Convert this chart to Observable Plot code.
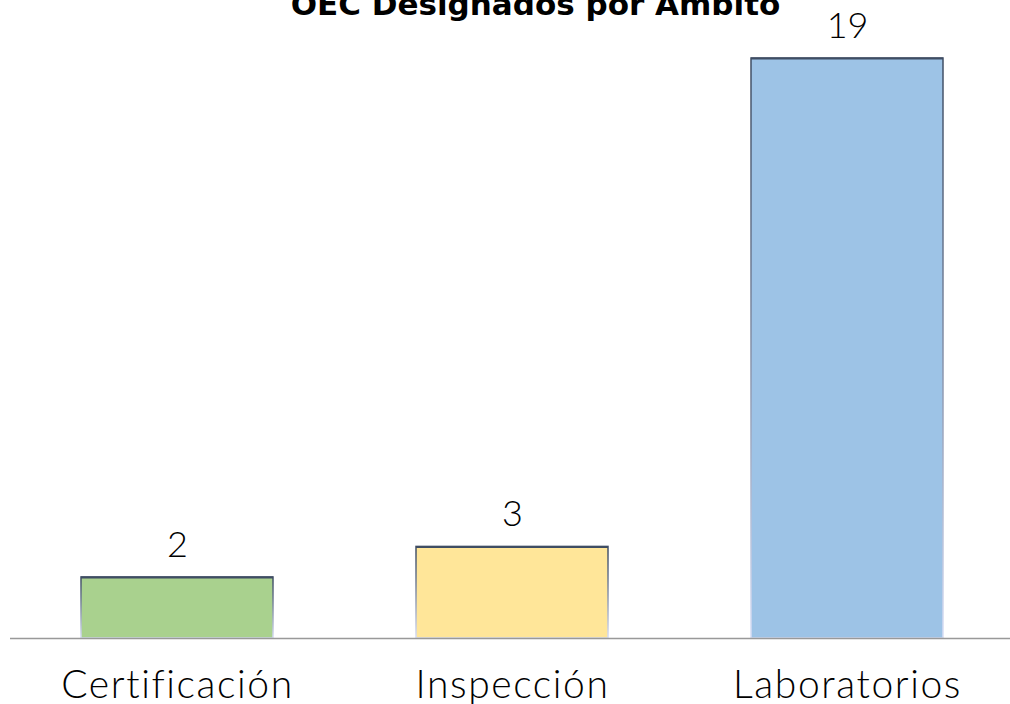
<!DOCTYPE html>
<html>
<head>
<meta charset="utf-8">
<script src="https://cdn.jsdelivr.net/npm/d3@7"></script>
<script src="https://cdn.jsdelivr.net/npm/@observablehq/plot@0.6"></script>
<style>
  html, body { margin: 0; padding: 0; background: #fff; overflow: hidden; }
  #wrap { position: relative; width: 1010px; height: 704px; }
  #title { position: absolute; left: 0; width: 1071px; top: -11px; text-align: center; line-height: 31px;
           font-family: "DejaVu Sans", sans-serif; font-weight: bold; font-size: 31px; color: #000; white-space: nowrap; }
  #chart { position: absolute; left: 0; top: 0; }
  .xaxis text { letter-spacing: 1.6px; }
</style>
</head>
<body>
<svg width="0" height="0" style="position:absolute">
  <defs>
    <linearGradient id="edge" x1="0" y1="0" x2="0" y2="1">
      <stop offset="0" stop-color="#3f4d63"/>
      <stop offset="0.35" stop-color="#6b7890"/>
      <stop offset="1" stop-color="#d8def5"/>
    </linearGradient>
  </defs>
</svg>
<div id="wrap">
  <div id="chart"></div>
  <div id="title">OEC Designados por Ámbito</div>
</div>
<script>
const categories = ["Certificación", "Inspección", "Laboratorios"];
const values = [2, 3, 19];
const colors = ["#A9D18E", "#FFE699", "#9DC3E6"];

const data = categories.map((c, i) => ({category: c, value: values[i], color: colors[i]}));
const font = "Lato, 'Open Sans', sans-serif";

const chart = Plot.plot({
  width: 1010,
  height: 704,
  marginLeft: 10,
  marginRight: 0,
  marginTop: 58,
  marginBottom: 66,
  style: {fontFamily: font, background: "transparent", overflow: "visible"},
  x: {domain: categories, range: [8.75, 1015.25], paddingInner: 0.428, paddingOuter: 0.214, label: null},
  y: {domain: [0, 19], axis: null},
  marks: [
    Plot.barY(data, {x: "category", y: "value", fill: "color", stroke: "url(#edge)", strokeWidth: 1.5}),
    Plot.tickY(data, {x: "category", y: "value", stroke: "#3f4d63", strokeWidth: 2}),
    Plot.ruleY([0], {stroke: "#999", strokeWidth: 1.5}),
    Plot.text(data, {x: "category", y: "value", text: d => String(d.value), dy: -32, lineAnchor: "middle",
      fontSize: 36, fill: "#000", fontWeight: 300}),
    Plot.axisX({tickSize: 0, tickPadding: 32, fontSize: 39, fontWeight: 300, color: "#000", label: null,
      className: "xaxis"})
  ]
});
document.getElementById("chart").appendChild(chart);
</script>
</body>
</html>
